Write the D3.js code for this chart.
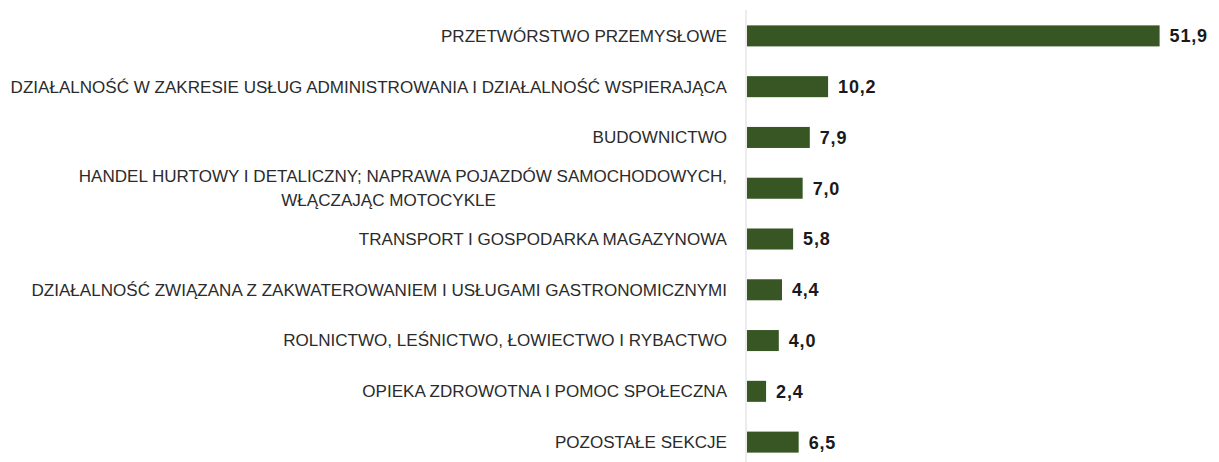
<html>
<head>
<meta charset="utf-8">
<script src="https://d3js.org/d3.v7.min.js"></script>
<style>
  body { margin: 0; background: white; }
  svg { display: block; }
</style>
</head>
<body>
<svg width="1219" height="462"></svg>
<script>
// data
var categories = [
  ["PRZETWÓRSTWO PRZEMYSŁOWE"],
  ["DZIAŁALNOŚĆ W ZAKRESIE USŁUG ADMINISTROWANIA I DZIAŁALNOŚĆ WSPIERAJĄCA"],
  ["BUDOWNICTWO"],
  ["HANDEL HURTOWY I DETALICZNY; NAPRAWA POJAZDÓW SAMOCHODOWYCH,", "WŁĄCZAJĄC MOTOCYKLE"],
  ["TRANSPORT I GOSPODARKA MAGAZYNOWA"],
  ["DZIAŁALNOŚĆ ZWIĄZANA Z ZAKWATEROWANIEM I USŁUGAMI GASTRONOMICZNYMI"],
  ["ROLNICTWO, LEŚNICTWO, ŁOWIECTWO I RYBACTWO"],
  ["OPIEKA ZDROWOTNA I POMOC SPOŁECZNA"],
  ["POZOSTAŁE SEKCJE"]
]
var values = [51.9, 10.2, 7.9, 7.0, 5.8, 4.4, 4.0, 2.4, 6.5]
var valueLabels = ["51,9", "10,2", "7,9", "7,0", "5,8", "4,4", "4,0", "2,4", "6,5"]

const axisX = 746
const labelRight = 727
const labelWidest = 717
const barColor = "#375623"

var svg = d3.select("svg")
var idx = d3.range(values.length)

var x = d3.scaleLinear().domain([0, 52]).range([axisX + 1, axisX + 1 + 52 * 7.95])
var y = d3.scaleBand().domain(idx).range([10.5, 467.5]).paddingInner(0.586).paddingOuter(0.293)

// bars
svg.append("g").selectAll("rect").data(idx).enter().append("rect")
  .attr("x", x(0))
  .attr("y", function(i){ return y(i) })
  .attr("width", function(i){ return x(values[i]) - x(0) })
  .attr("height", y.bandwidth())
  .style("fill", barColor)

// vertical axis line
svg.append("line")
  .attr("x1", axisX).attr("x2", axisX)
  .attr("y1", 10).attr("y2", 462)
  .style("stroke", "#d9d9d9").style("stroke-width", 1)

// category labels
var lab = svg.append("g").style("font-family", "'Liberation Sans Narrow', 'Liberation Sans', sans-serif")
  .style("font-size", "17px").style("fill", "#2b2b2b")

var groups = lab.selectAll("g").data(idx).enter().append("g")
groups.each(function(i){
  var g = d3.select(this)
  var lines = categories[i]
  var cy = y(i) + y.bandwidth() / 2
  lines.forEach(function(t, k){
    g.append("text")
      .attr("data-line", k)
      .attr("y", cy + (k - (lines.length - 1) / 2) * 24)
      .attr("dy", "0.35em")
      .text(t)
  })
})

// squeeze to match the narrow original font
var longest = 0
lab.selectAll("text").each(function(){ longest = Math.max(longest, this.getComputedTextLength()) })
var k = labelWidest / longest
groups.each(function(i){
  var texts = d3.select(this).selectAll("text")
  var w0 = texts.nodes()[0].getComputedTextLength()
  texts.each(function(){
    var t = d3.select(this)
    if (+t.attr("data-line") === 0) {
      t.attr("text-anchor", "end").attr("transform", "translate(" + labelRight + ",0) scale(" + k + ",1)")
    } else {
      var cx = labelRight - w0 * k / 2 - 14
      t.attr("text-anchor", "middle").attr("transform", "translate(" + cx + ",0) scale(" + k + ",1)")
    }
  })
})

// value labels
svg.append("g").selectAll("text").data(idx).enter().append("text")
  .attr("x", function(i){ return x(values[i]) + 10 })
  .attr("y", function(i){ return y(i) + y.bandwidth() / 2 })
  .attr("dy", "0.36em")
  .style("font-family", "'Liberation Sans', sans-serif")
  .style("font-weight", "bold")
  .style("font-size", "18px")
  .style("letter-spacing", "0.8px")
  .style("fill", "#1a1a1a")
  .text(function(i){ return valueLabels[i] })
</script>
</body>
</html>
